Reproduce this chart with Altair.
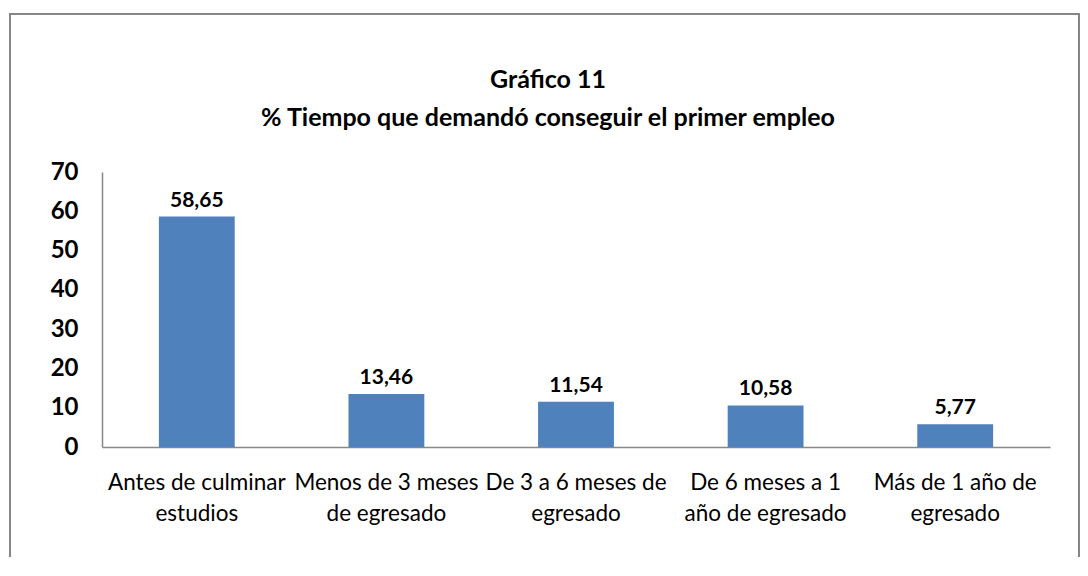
import altair as alt
import pandas as pd

categories = [
    "Antes de culminar\nestudios",
    "Menos de 3 meses\nde egresado",
    "De 3 a 6 meses de\negresado",
    "De 6 meses a 1\naño de egresado",
    "Más de 1 año de\negresado",
]
values = [58.65, 13.46, 11.54, 10.58, 5.77]
y_ticks = [0, 10, 20, 30, 40, 50, 60, 70]

df = pd.DataFrame({
    "cat": categories,
    "val": values,
    "lbl": [f"{v:.2f}".replace(".", ",") for v in values],
})

FONT = "Lato"
W, H = 948, 275

x = alt.X("cat:N", sort=categories, title=None,
          scale=alt.Scale(paddingInner=0.6, paddingOuter=0.3),
          axis=alt.Axis(labelAngle=0, labelExpr="split(datum.label, '\\n')",
                        labelFontSize=22.5, labelFont=FONT, labelFontWeight="normal",
                        labelColor="#000", labelPadding=24, labelLineHeight=31,
                        labelLimit=400, labelOverlap=False,
                        ticks=False, domainColor="#888", domainWidth=1.5))
y = alt.Y("val:Q", title=None,
          scale=alt.Scale(domain=[0, 70], nice=False),
          axis=alt.Axis(values=y_ticks, grid=False, ticks=False, labelOverlap=False,
                        labelFontSize=24, labelFont=FONT, labelFontWeight="bold",
                        labelColor="#000", labelPadding=24,
                        domainColor="#888", domainWidth=1.5))

bars = alt.Chart(df).mark_bar(color="#4F81BD").encode(x=x, y=y)
text = alt.Chart(df).mark_text(baseline="bottom", dy=-6, fontSize=21,
                               font=FONT, fontWeight="bold", color="#000").encode(
    x=x, y=y, text="lbl:N")

frame = alt.Chart(df.head(1)).mark_rect(fill=None, stroke="#868686", strokeWidth=2).encode(
    x=alt.value(-92), x2=alt.value(977), y=alt.value(-158), y2=alt.value(430))

chart = alt.layer(frame, bars, text).properties(
    width=W, height=H,
    title=alt.TitleParams(
        ["Gráfico 11", "% Tiempo que demandó conseguir el primer empleo"],
        fontSize=25, font=FONT, fontWeight="bold", color="#000",
        lineHeight=38, anchor="middle", offset=-118, dx=-28),
    padding={"left": 94, "top": 164, "right": 30, "bottom": 110},
    autosize=alt.AutoSizeParams(type="none"),
).configure_view(stroke=None).configure_axisY(labelOverlap=False, labelSeparation=0)

chart.save("out.html", embed_options={"renderer": "svg", "actions": False})
